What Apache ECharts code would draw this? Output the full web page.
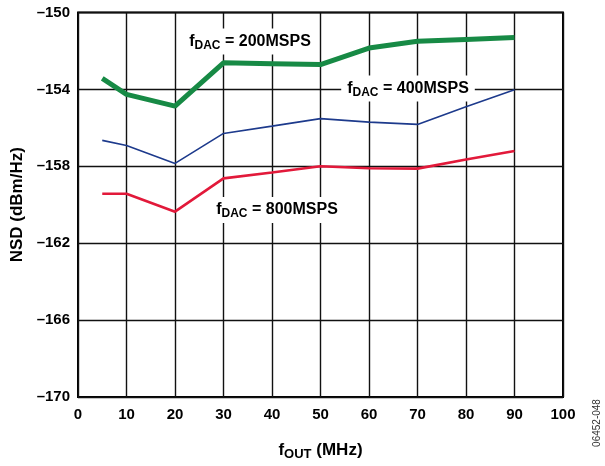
<!DOCTYPE html>
<html><head><meta charset="utf-8">
<script src="https://cdn.jsdelivr.net/npm/echarts@6/dist/echarts.min.js"></script>
<style>html,body{margin:0;padding:0;background:#fff}#c{width:605px;height:466px}</style>
</head><body><div id="c"></div>
<script>
var fOut = [5, 10, 20, 30, 40, 50, 60, 70, 80, 90];
var nsd200 = [-153.43, -154.26, -154.87, -152.62, -152.66, -152.71, -151.85, -151.5, -151.4, -151.3];
var nsd400 = [-156.65, -156.92, -157.85, -156.29, -155.91, -155.52, -155.7, -155.82, -154.9, -154.02];
var nsd800 = [-159.43, -159.43, -160.36, -158.63, -158.32, -158.0, -158.1, -158.12, -157.65, -157.2];
var xTicks = [0, 10, 20, 30, 40, 50, 60, 70, 80, 90, 100];
var yTicks = [-170, -166, -162, -158, -154, -150];

function pairs(ys){ return fOut.map(function(x,i){ return [x, ys[i]]; }); }
var annFont = 'Liberation Sans';
function ann(label, cx, cy){
  return {
    type: 'text', x: cx, y: cy, z: 100,
    style: {
      text: '{f|f}{s|DAC}{n| = ' + label + '}',
      align: 'center', verticalAlign: 'middle',
      backgroundColor: '#fff', padding: [3, 6, 3, 6],
      rich: {
        f: {fontFamily: annFont, fontWeight: 'bold', fontSize: 16, lineHeight: 20, verticalAlign: 'middle', fill: '#000'},
        s: {fontFamily: annFont, fontWeight: 'bold', fontSize: 12, lineHeight: 6, verticalAlign: 'bottom', fill: '#000'},
        n: {fontFamily: annFont, fontWeight: 'bold', fontSize: 16, lineHeight: 20, verticalAlign: 'middle', fill: '#000'}
      }
    }
  };
}
var chart = echarts.init(document.getElementById('c'), null, {renderer: 'canvas'});
var gridColor = '#111';
chart.setOption({
  animation: false,
  backgroundColor: '#fff',
  grid: {left: 78, right: 42, top: 12.5, bottom: 66, show: true, borderColor: '#000', borderWidth: 2, backgroundColor: 'transparent'},
  xAxis: {
    type: 'value', min: xTicks[0], max: xTicks[xTicks.length-1], interval: 10,
    axisLine: {show: false}, axisTick: {show: false},
    splitLine: {show: true, lineStyle: {color: gridColor, width: 1.4}},
    axisLabel: {margin: 10, fontFamily: 'Liberation Sans', fontWeight: 'bold', fontSize: 15, color: '#000'},
    name: '{f|f}{s|OUT}{n| (MHz)}', nameLocation: 'middle', nameGap: 42,
    nameTextStyle: {
      rich: {
        f: {fontFamily: 'Liberation Sans', fontWeight: 'bold', fontSize: 17, lineHeight: 22, verticalAlign: 'middle', color: '#000'},
        s: {fontFamily: 'Liberation Sans', fontWeight: 'bold', fontSize: 13, lineHeight: 6, verticalAlign: 'bottom', color: '#000'},
        n: {fontFamily: 'Liberation Sans', fontWeight: 'bold', fontSize: 17, lineHeight: 22, verticalAlign: 'middle', color: '#000'}
      }
    }
  },
  yAxis: {
    type: 'value', min: yTicks[0], max: yTicks[yTicks.length-1], interval: 4,
    axisLine: {show: false}, axisTick: {show: false},
    splitLine: {show: true, lineStyle: {color: gridColor, width: 1.4}},
    axisLabel: {margin: 8, fontFamily: 'Liberation Sans', fontWeight: 'bold', fontSize: 15, color: '#000',
      formatter: function(v){ return String(v).replace('-', '\u2013'); }},
    name: 'NSD (dBm/Hz)', nameLocation: 'middle', nameGap: 51, nameRotate: 90,
    nameTextStyle: {fontFamily: 'Liberation Sans', fontWeight: 'bold', fontSize: 17, color: '#000'}
  },
  series: [
    {type: 'line', data: pairs(nsd400), showSymbol: false, lineStyle: {color: '#1d3a8c', width: 1.6}, z: 3},
    {type: 'line', data: pairs(nsd800), showSymbol: false, lineStyle: {color: '#e2193a', width: 2.6}, z: 3},
    {type: 'line', data: pairs(nsd200), showSymbol: false, lineStyle: {color: '#178a45', width: 5}, z: 4}
  ],
  graphic: [
    ann('200MSPS', 250, 41.5),
    ann('400MSPS', 408, 88.5),
    ann('800MSPS', 277, 210),
    {type: 'text', x: 597, y: 423, rotation: Math.PI/2, z: 100,
     style: {text: '06452-048', align: 'center', verticalAlign: 'middle', fontFamily: 'Liberation Sans', fontSize: 10, fill: '#333'}}
  ]
});
</script></body></html>
